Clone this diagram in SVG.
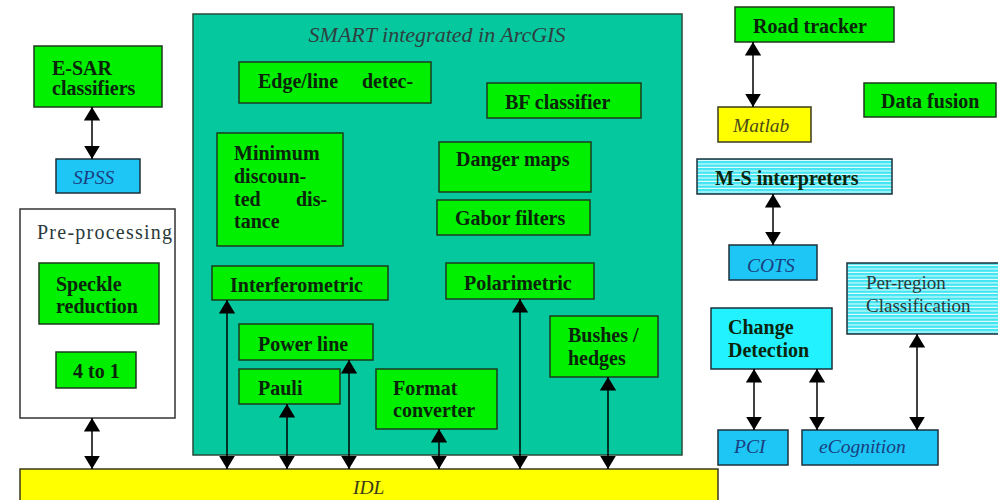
<svg xmlns="http://www.w3.org/2000/svg" width="998" height="500" viewBox="0 0 998 500">
<defs>
<style>
.g{fill:#00F000;stroke:#1d3a1d;stroke-width:1.5}
.c{fill:#1EC6F6;stroke:#1d2f3a;stroke-width:1.5}
.y{fill:#FFFF00;stroke:#3a3a1d;stroke-width:1.5}
.st{fill:url(#stripes);stroke:#1d2f3a;stroke-width:1.5}
.b{font-family:"Liberation Serif","Times New Roman",serif;font-weight:bold;font-size:20px;fill:#0a240a}
.r{font-family:"Liberation Serif","Times New Roman",serif;font-size:20px;fill:#2a3a3a}
.i{font-family:"Liberation Serif","Times New Roman",serif;font-style:italic;font-size:19.5px}
.ln{stroke:#000;stroke-width:1.5;fill:none;marker-start:url(#ah);marker-end:url(#ah)}
</style>
<pattern id="stripes" width="4" height="3.5" patternUnits="userSpaceOnUse">
<rect width="4" height="3.5" fill="#3FE6F2"/>
<rect y="2.4" width="4" height="1.1" fill="#E8FCFF"/>
</pattern>
<marker id="ah" viewBox="0 0 10 12" refX="10" refY="6" markerWidth="9" markerHeight="10.8" markerUnits="strokeWidth" orient="auto-start-reverse">
<path d="M0,0 L10,6 L0,12 z" fill="#000"/>
</marker>
<clipPath id="minclip"><rect x="217" y="133" width="126" height="113"/></clipPath>
</defs>
<rect width="998" height="500" fill="#fff"/>

<g id="smart">
<rect x="193" y="14" width="489" height="441" fill="#05C89E" stroke="#2a4a3a" stroke-width="1.5"/>
<text x="437" y="42" text-anchor="middle" class="i" style="font-size:22px;fill:#2f4040">SMART integrated in ArcGIS</text>
</g>

<g id="idl">
<rect x="20" y="469" width="698" height="40" class="y"/>
<text x="353" y="494" class="i" style="fill:#3a3a1a">IDL</text>
</g>

<g id="esar">
<rect x="34" y="46" width="128" height="61" class="g"/>
<text x="52" y="75" class="b">E-SAR</text>
<text x="52" y="95" class="b">classifiers</text>
</g>
<g id="spss">
<rect x="56" y="159" width="84" height="34" class="c"/>
<text x="73" y="184" class="i" style="fill:#1a3f80">SPSS</text>
</g>

<g id="preprocessing">
<rect x="20" y="209" width="155" height="209" fill="#fff" stroke="#333" stroke-width="1.5"/>
<text x="37" y="239" class="r" style="font-size:20px" textLength="135">Pre-processing</text>
</g>
<g id="speckle">
<rect x="39" y="263" width="120" height="61" class="g"/>
<text x="56" y="291" class="b">Speckle</text>
<text x="56" y="313" class="b">reduction</text>
</g>
<g id="fourtoone">
<rect x="56" y="352" width="80" height="36" class="g"/>
<text x="73" y="378" class="b">4 to 1</text>
</g>

<g id="edgeline">
<rect x="239" y="62" width="192" height="41" class="g"/>
<text x="258" y="88" class="b">Edge/line</text>
<text x="362" y="88" class="b">detec-</text>
</g>
<g id="minimum">
<rect x="217" y="133" width="126" height="113" class="g"/>
<g clip-path="url(#minclip)">
<text x="234" y="160" class="b">Minimum</text>
<text x="234" y="183" class="b">discoun-</text>
<text x="234" y="206" class="b">ted</text>
<text x="296" y="206" class="b">dis-</text>
<text x="234" y="228" class="b">tance</text>
</g>
</g>
<g id="bf">
<rect x="487" y="83" width="154" height="35" class="g"/>
<text x="505" y="109" class="b">BF classifier</text>
</g>
<g id="danger">
<rect x="439" y="142" width="152" height="50" class="g"/>
<text x="456" y="166" class="b">Danger maps</text>
</g>
<g id="gabor">
<rect x="437" y="200" width="153" height="35" class="g"/>
<text x="455" y="225" class="b">Gabor filters</text>
</g>
<g id="interferometric">
<rect x="212" y="266" width="176" height="34" class="g"/>
<text x="230" y="292" class="b">Interferometric</text>
</g>
<g id="polarimetric">
<rect x="446" y="263" width="148" height="36" class="g"/>
<text x="464" y="290" class="b">Polarimetric</text>
</g>
<g id="powerline">
<rect x="239" y="324" width="134" height="36" class="g"/>
<text x="258" y="351" class="b">Power line</text>
</g>
<g id="pauli">
<rect x="239" y="369" width="101" height="35" class="g"/>
<text x="258" y="395" class="b">Pauli</text>
</g>
<g id="format">
<rect x="376" y="369" width="121" height="60" class="g"/>
<text x="393" y="395" class="b">Format</text>
<text x="393" y="417" class="b">converter</text>
</g>
<g id="bushes">
<rect x="550" y="316" width="108" height="61" class="g"/>
<text x="568" y="342" class="b">Bushes /</text>
<text x="568" y="365" class="b">hedges</text>
</g>

<g id="roadtracker">
<rect x="735" y="7" width="159" height="35" class="g"/>
<text x="753" y="33" class="b">Road tracker</text>
</g>
<g id="matlab">
<rect x="718" y="107" width="93" height="35" class="y"/>
<text x="733" y="132" class="i" style="fill:#4a4a1a">Matlab</text>
</g>
<g id="datafusion">
<rect x="864" y="83" width="132" height="34" class="g"/>
<text x="881" y="108" class="b">Data fusion</text>
</g>
<g id="msinterpreters">
<rect x="697" y="159" width="195" height="35" class="st"/>
<text x="715" y="185" class="b">M-S interpreters</text>
</g>
<g id="cots">
<rect x="729" y="245" width="88" height="35" class="c"/>
<text x="747" y="272" class="i" style="fill:#1a3f80">COTS</text>
</g>
<g id="perregion">
<rect x="847" y="263" width="160" height="71" class="st"/>
<text x="866" y="289" class="r" style="font-size:19px">Per-region</text>
<text x="866" y="312" class="r" style="font-size:19px">Classification</text>
</g>
<g id="changedetection">
<rect x="711" y="308" width="121" height="61" fill="#22F2FF" stroke="#1d2f3a" stroke-width="1.5"/>
<text x="728" y="334" class="b">Change</text>
<text x="728" y="357" class="b">Detection</text>
</g>
<g id="pci">
<rect x="718" y="430" width="70" height="35" class="c"/>
<text x="734" y="453" class="i" style="fill:#1a3f80">PCI</text>
</g>
<g id="ecognition">
<rect x="802" y="430" width="136" height="35" class="c"/>
<text x="819" y="453" class="i" style="fill:#1a3f80">eCognition</text>
</g>

<g id="connectors">
<line x1="92" y1="107" x2="92" y2="159" class="ln"/>
<line x1="92" y1="418" x2="92" y2="469" class="ln"/>
<line x1="227" y1="300" x2="227" y2="469" class="ln"/>
<line x1="287" y1="404" x2="287" y2="469" class="ln"/>
<line x1="349" y1="360" x2="349" y2="469" class="ln"/>
<line x1="439" y1="429" x2="439" y2="469" class="ln"/>
<line x1="520" y1="299" x2="520" y2="469" class="ln"/>
<line x1="608" y1="377" x2="608" y2="469" class="ln"/>
<line x1="753" y1="42" x2="753" y2="107" class="ln"/>
<line x1="773" y1="194" x2="773" y2="245" class="ln"/>
<line x1="754" y1="369" x2="754" y2="430" class="ln"/>
<line x1="817" y1="369" x2="817" y2="430" class="ln"/>
<line x1="917" y1="334" x2="917" y2="430" class="ln"/>
</g>
</svg>
